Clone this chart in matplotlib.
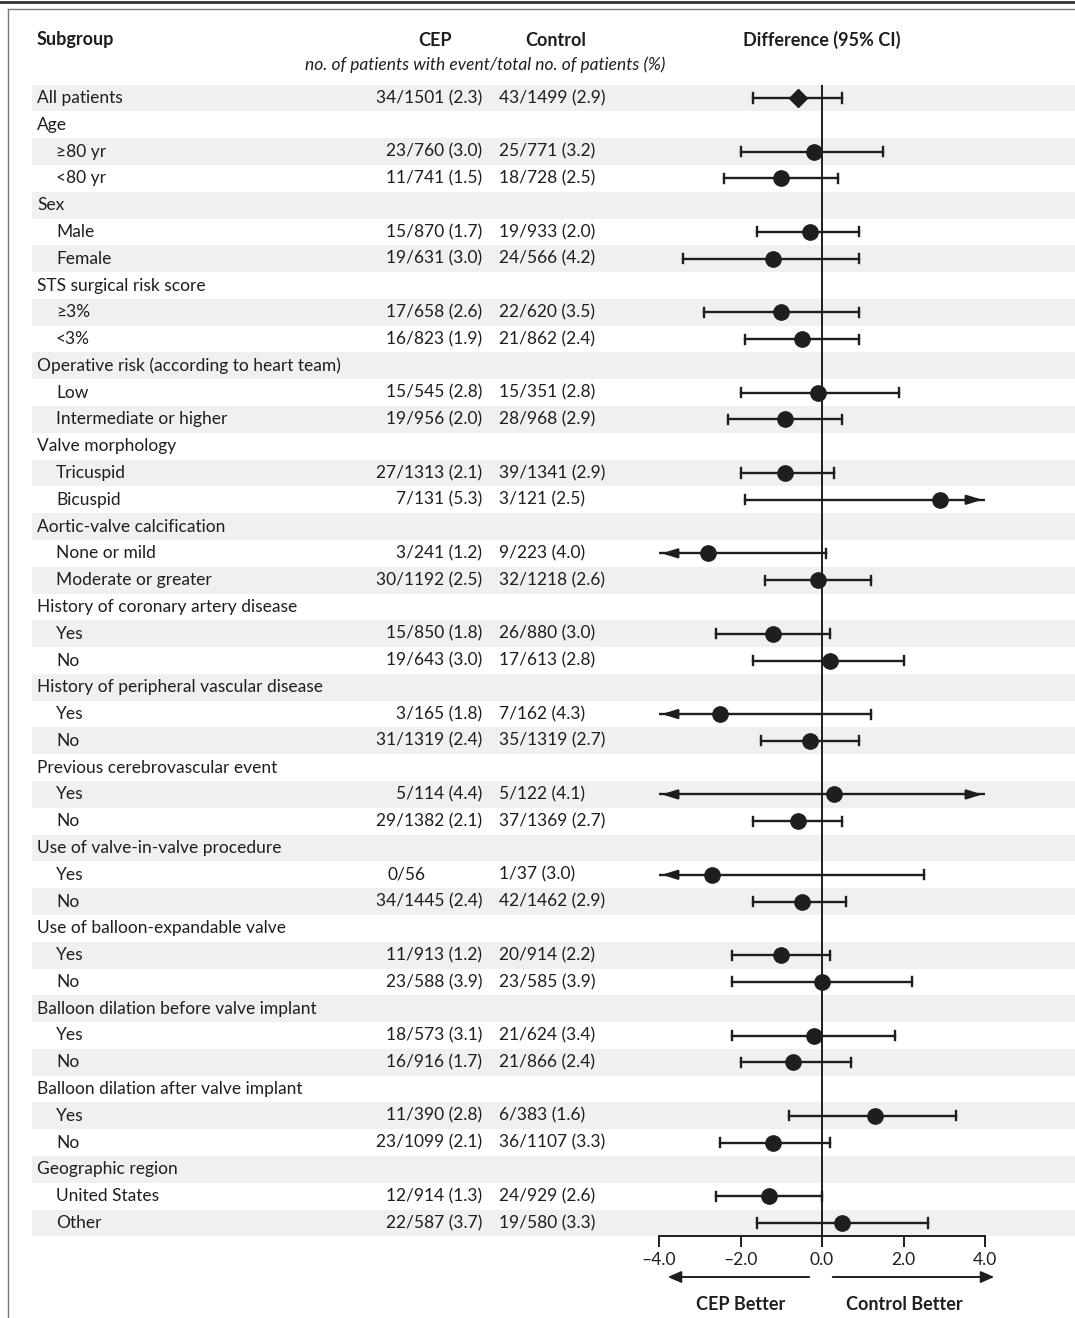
import numpy as np
import matplotlib.pyplot as plt
import matplotlib.transforms as mtransforms
from matplotlib.lines import Line2D
from matplotlib.patches import FancyArrowPatch, Rectangle

plt.rcParams['font.family'] = ['Lato', 'DejaVu Sans']

labels = ["All patients", "Age", "\u226580 yr", "<80 yr", "Sex", "Male", "Female",
          "STS surgical risk score", "\u22653%", "<3%",
          "Operative risk (according to heart team)", "Low", "Intermediate or higher",
          "Valve morphology", "Tricuspid", "Bicuspid",
          "Aortic-valve calcification", "None or mild", "Moderate or greater",
          "History of coronary artery disease", "Yes", "No",
          "History of peripheral vascular disease", "Yes", "No",
          "Previous cerebrovascular event", "Yes", "No",
          "Use of valve-in-valve procedure", "Yes", "No",
          "Use of balloon-expandable valve", "Yes", "No",
          "Balloon dilation before valve implant", "Yes", "No",
          "Balloon dilation after valve implant", "Yes", "No",
          "Geographic region", "United States", "Other"]
indent = [0, 0, 1, 1, 0, 1, 1, 0, 1, 1, 0, 1, 1, 0, 1, 1, 0, 1, 1, 0, 1, 1,
          0, 1, 1, 0, 1, 1, 0, 1, 1, 0, 1, 1, 0, 1, 1, 0, 1, 1, 0, 1, 1]
cep = ["34/1501 (2.3)", "", "23/760 (3.0)", "11/741 (1.5)", "", "15/870 (1.7)", "19/631 (3.0)",
       "", "17/658 (2.6)", "16/823 (1.9)", "", "15/545 (2.8)", "19/956 (2.0)",
       "", "27/1313 (2.1)", "7/131 (5.3)", "", "3/241 (1.2)", "30/1192 (2.5)",
       "", "15/850 (1.8)", "19/643 (3.0)", "", "3/165 (1.8)", "31/1319 (2.4)",
       "", "5/114 (4.4)", "29/1382 (2.1)", "", "0/56", "34/1445 (2.4)",
       "", "11/913 (1.2)", "23/588 (3.9)", "", "18/573 (3.1)", "16/916 (1.7)",
       "", "11/390 (2.8)", "23/1099 (2.1)", "", "12/914 (1.3)", "22/587 (3.7)"]
ctrl = ["43/1499 (2.9)", "", "25/771 (3.2)", "18/728 (2.5)", "", "19/933 (2.0)", "24/566 (4.2)",
        "", "22/620 (3.5)", "21/862 (2.4)", "", "15/351 (2.8)", "28/968 (2.9)",
        "", "39/1341 (2.9)", "3/121 (2.5)", "", "9/223 (4.0)", "32/1218 (2.6)",
        "", "26/880 (3.0)", "17/613 (2.8)", "", "7/162 (4.3)", "35/1319 (2.7)",
        "", "5/122 (4.1)", "37/1369 (2.7)", "", "1/37 (3.0)", "42/1462 (2.9)",
        "", "20/914 (2.2)", "23/585 (3.9)", "", "21/624 (3.4)", "21/866 (2.4)",
        "", "6/383 (1.6)", "36/1107 (3.3)", "", "24/929 (2.6)", "19/580 (3.3)"]
nan = np.nan
est = [-0.6, nan, -0.2, -1.0, nan, -0.3, -1.2, nan, -1.0, -0.5, nan, -0.1, -0.9,
       nan, -0.9, 2.9, nan, -2.8, -0.1, nan, -1.2, 0.2, nan, -2.5, -0.3,
       nan, 0.3, -0.6, nan, -2.7, -0.5, nan, -1.0, 0.0, nan, -0.2, -0.7,
       nan, 1.3, -1.2, nan, -1.3, 0.5]
# values beyond +/-4 run off the axis and get an arrow
lo = [-1.7, nan, -2.0, -2.4, nan, -1.6, -3.4, nan, -2.9, -1.9, nan, -2.0, -2.3,
      nan, -2.0, -1.9, nan, -6.0, -1.4, nan, -2.6, -1.7, nan, -6.0, -1.5,
      nan, -6.0, -1.7, nan, -6.0, -1.7, nan, -2.2, -2.2, nan, -2.2, -2.0,
      nan, -0.8, -2.5, nan, -2.6, -1.6]
hi = [0.5, nan, 1.5, 0.4, nan, 0.9, 0.9, nan, 0.9, 0.9, nan, 1.9, 0.5,
      nan, 0.3, 6.0, nan, 0.1, 1.2, nan, 0.2, 2.0, nan, 1.2, 0.9,
      nan, 6.0, 0.5, nan, 2.5, 0.6, nan, 0.2, 2.2, nan, 1.8, 0.7,
      nan, 3.3, 0.2, nan, 0.0, 2.6]

INK = '#1e1e1e'
FS = 12.5
W, H = 1075, 1318
fig = plt.figure(figsize=(W / 100, H / 100), dpi=100)
n = len(labels)
row0, step = 98, (1223 - 98) / (n - 1)
ytop, ybot = row0 - step / 2, 1223 + step / 2
ax = fig.add_axes([659 / W, 1 - ybot / H, (985 - 659) / W, (ybot - ytop) / H])
ax.set_xlim(-4, 4)
ax.set_ylim(n - 0.5, -0.5)
ax.patch.set_alpha(0)
for s in ['top', 'right', 'left']:
    ax.spines[s].set_visible(False)
ax.set_yticks([])
ax.set_xticks([-4, -2, 0, 2, 4])
ax.set_xticklabels(["\u20134.0", "\u20132.0", "0.0", "2.0", "4.0"], fontsize=FS, color=INK)
ax.tick_params(axis='x', length=8, width=1.4, color=INK, pad=3)
ax.spines['bottom'].set_linewidth(1.4)
ax.spines['bottom'].set_color(INK)

# shading, figure x / data y
tt = mtransforms.blended_transform_factory(fig.transFigure, ax.transData)
for i in range(0, n, 2):
    ax.add_patch(Rectangle((32 / W, i - 0.5), (1075 - 32) / W, 1, transform=tt,
                           facecolor='#eef0f2', edgecolor='none', zorder=0, clip_on=False))

ax.axvline(0, color=INK, lw=1.4, zorder=2)

for i in range(n):
    if np.isnan(est[i]):
        continue
    l, h = max(lo[i], -4), min(hi[i], 4)
    ax.plot([l, h], [i, i], color=INK, lw=1.7, zorder=3)
    for v, raw in ((l, lo[i]), (h, hi[i])):
        if raw == v:
            ax.plot([v, v], [i - 0.17, i + 0.17], color=INK, lw=1.7, zorder=3)
        else:
            d = -1 if raw < v else 1
            ax.annotate('', xy=(v, i), xytext=(v - d * 0.5, i),
                        arrowprops=dict(arrowstyle='-|>,head_length=0.9,head_width=0.28',
                                        color=INK, lw=1.7), zorder=3)
    ax.plot(est[i], i, marker='D' if i == 0 else 'o', ms=9 if i == 0 else 11,
            color=INK, zorder=4)

for i in range(n):
    ax.text((37 + 19 * indent[i]) / W, i, labels[i], transform=tt, va='center',
            fontsize=FS, color=INK)
    if cep[i]:
        if '(' in cep[i]:
            ax.text(482 / W, i, cep[i], transform=tt, va='center', ha='right',
                    fontsize=FS, color=INK)
        else:
            ax.text(388 / W, i, cep[i], transform=tt, va='center', ha='left',
                    fontsize=FS, color=INK)
    if ctrl[i]:
        ax.text(499 / W, i, ctrl[i], transform=tt, va='center', ha='left',
                fontsize=FS, color=INK)


def fy(p):
    return 1 - p / H


fig.text(37 / W, fy(40), "Subgroup", fontsize=13, weight='bold', va='center', color=INK)
fig.text(435 / W, fy(40), "CEP", fontsize=13, weight='bold', va='center', ha='center', color=INK)
fig.text(556 / W, fy(40), "Control", fontsize=13, weight='bold', va='center', ha='center', color=INK)
fig.text(822 / W, fy(40), "Difference (95% CI)", fontsize=13, weight='bold', va='center',
         ha='center', color=INK)
fig.text(485 / W, fy(65), "no. of patients with event/total no. of patients (%)", fontsize=FS,
         style='italic', va='center', ha='center', color=INK)

# direction arrows
for x0, x1 in ((812, 665), (830, 997)):
    fig.add_artist(FancyArrowPatch((x0 / W, fy(1277)), (x1 / W, fy(1277)),
                                   transform=fig.transFigure,
                                   arrowstyle='-|>,head_length=8,head_width=3.5',
                                   color=INK, lw=1.4))
fig.text(741 / W, fy(1304), "CEP Better", fontsize=13, weight='bold', va='center',
         ha='center', color=INK)
fig.text(904 / W, fy(1304), "Control Better", fontsize=13, weight='bold', va='center',
         ha='center', color=INK)

# frame lines
fig.add_artist(Line2D([0, 1], [fy(2), fy(2)], color='#333333', lw=2))
fig.add_artist(Line2D([8 / W, 1], [fy(9), fy(9)], color='#777777', lw=1))
fig.add_artist(Line2D([8 / W, 8 / W], [fy(9), 0], color='#777777', lw=1))

fig.savefig('out.png', dpi=100)
